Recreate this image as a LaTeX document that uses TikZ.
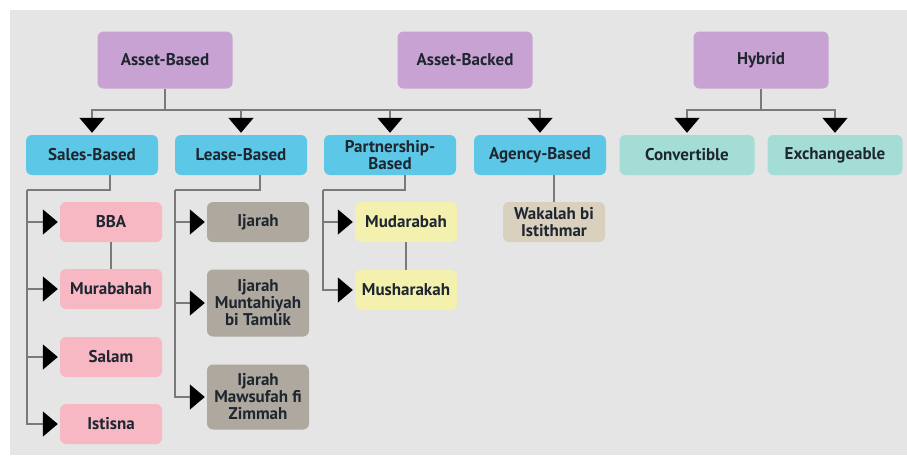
\documentclass[tikz,border=0pt]{standalone}
\usepackage{fontspec}
\setmainfont{PT Sans}
\usetikzlibrary{arrows.meta}
\definecolor{panelgray}{HTML}{E4E5E4}
\definecolor{linegray}{HTML}{7A7A7A}
\definecolor{textdark}{HTML}{1E2630}
\definecolor{purplebox}{HTML}{C8A2D2}
\definecolor{bluebox}{HTML}{5CC7E6}
\definecolor{tealbox}{HTML}{A3DDD5}
\definecolor{pinkbox}{HTML}{F7B7C3}
\definecolor{taupebox}{HTML}{AEA89F}
\definecolor{yellowbox}{HTML}{F4F1AE}
\definecolor{tanbox}{HTML}{D9D0BE}

\begin{document}
\begin{tikzpicture}[x=1pt,y=-1pt,
  box/.style={rounded corners=6pt, inner sep=1pt, align=center, text=textdark,
    font=\bfseries\fontsize{17}{17}\selectfont},
  topbox/.style={box, fill=purplebox, minimum width=135pt, minimum height=57pt},
  midbox/.style={box, fill=bluebox, minimum width=132pt, minimum height=40pt},
  hybbox/.style={box, fill=tealbox, minimum width=135pt, minimum height=40pt},
  subbox/.style={box, minimum width=102pt, minimum height=40pt},
  ln/.style={draw=linegray, line width=1.5pt},
  arr/.style={ln, -{Triangle[length=15pt,width=25pt,color=black]}, shorten >=2pt}
]
\useasboundingbox (0,0) rectangle (907,456);
\fill[panelgray] (10,10) rectangle (907,455);

% top row
\node[topbox] (ab) at (165,60) {Asset-Based};
\node[topbox] (abk) at (465,60) {Asset-Backed};
\node[topbox] (hy) at (761,60) {Hybrid};

% second row
\node[midbox] (sb) at (92,155) {Sales-Based};
\node[midbox] (lb) at (241,155) {Lease-Based};
\node[midbox] (pb) at (390,155) {Partnership-\\Based};
\node[midbox] (agb) at (540,155) {Agency-Based};
\node[hybbox] (cv) at (687,155) {Convertible};
\node[hybbox] (ex) at (835,155) {Exchangeable};

% sales
\node[subbox,fill=pinkbox] (bba) at (111,222) {BBA};
\node[subbox,fill=pinkbox] (mur) at (111,289) {Murabahah};
\node[subbox,fill=pinkbox] (sal) at (111,357) {Salam};
\node[subbox,fill=pinkbox] (ist) at (111,424) {Istisna};

% lease
\node[subbox,fill=taupebox,minimum height=40pt] (ij) at (258,222) {Ijarah};
\node[subbox,fill=taupebox,minimum height=67pt] (ijm) at (258,303) {Ijarah\\Muntahiyah\\bi Tamlik};
\node[subbox,fill=taupebox,minimum height=65pt] (ijz) at (258,397) {Ijarah\\Mawsufah fi\\Zimmah};

% partnership
\node[subbox,fill=yellowbox] (mud) at (406,222) {Mudarabah};
\node[subbox,fill=yellowbox] (mus) at (406,290) {Musharakah};

% agency
\node[subbox,fill=tanbox] (wak) at (554,222) {Wakalah bi\\Istithmar};

\coordinate (barA) at (165,110);
\coordinate (barH) at (761,110);
\coordinate (sbj) at (110,190);
\coordinate (sbl) at (27,190);
\coordinate (lbj) at (260,190);
\coordinate (lbl) at (175,190);
\coordinate (pbj) at (405,190);
\coordinate (pbl) at (323,190);

\draw[arr] (ab) |- (barA) -| (sb);
\draw[arr] (barA) -| (lb);
\draw[arr] (barA) -| (pb);
\draw[arr] (barA) -| (agb);
\draw[arr] (hy) |- (barH) -| (cv);
\draw[arr] (barH) -| (ex);

\draw[ln] (sb.south -| sbj) -- (sbj) -- (sbl);
\draw[arr] (sbl) |- (bba);
\draw[arr] (sbl) |- (mur);
\draw[arr] (sbl) |- (sal);
\draw[arr] (sbl) |- (ist);
\draw[ln] (bba) -- (mur);

\draw[ln] (lb.south -| lbj) -- (lbj) -- (lbl);
\draw[arr] (lbl) |- (ij);
\draw[arr] (lbl) |- (ijm);
\draw[arr] (lbl) |- (ijz);

\draw[ln] (pb.south -| pbj) -- (pbj) -- (pbl);
\draw[arr] (pbl) |- (mud);
\draw[arr] (pbl) |- (mus);
\draw[ln] (mud) -- (mus);

\draw[ln] (agb.south -| wak.north) -- (wak);
\end{tikzpicture}
\end{document}
